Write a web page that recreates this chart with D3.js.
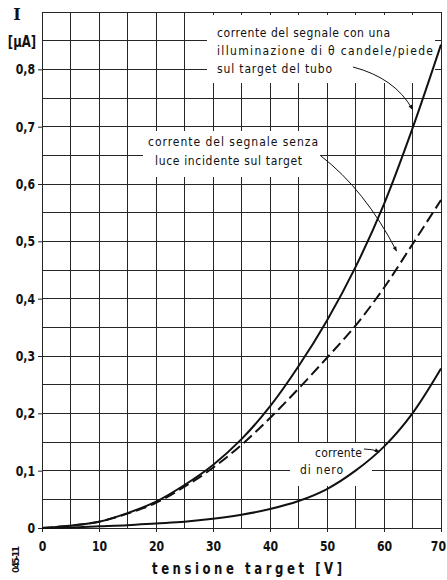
<!DOCTYPE html>
<html>
<head>
<meta charset="utf-8">
<script src="https://cdn.jsdelivr.net/npm/d3@7"></script>
<style>
  html, body { margin: 0; padding: 0; background: #fff; }
  svg { display: block; }
  .tick text { font-family: "DejaVu Sans", sans-serif; font-weight: bold; font-size: 14px; fill: #111; }
  .note { font-family: "DejaVu Sans Condensed", "DejaVu Sans", sans-serif; font-stretch: condensed; font-size: 12px; fill: #111; }
  .title { font-family: "DejaVu Sans", sans-serif; font-weight: bold; fill: #111; }
</style>
</head>
<body>
<svg id="chart" width="447" height="580"></svg>
<script>
// Target voltage (V)
const voltage = [0, 5, 10, 15, 20, 25, 30, 35, 40, 45, 50, 55, 60, 65, 70];
// Signal current with 8 foot-candles on the target (µA)
const currentLit = [0, 0.004, 0.011, 0.026, 0.046, 0.075, 0.11, 0.155, 0.212, 0.282, 0.362, 0.455, 0.565, 0.697, 0.843];
// Signal current with no incident light (µA)
const currentNoLight = [0, 0.004, 0.011, 0.025, 0.044, 0.072, 0.105, 0.145, 0.192, 0.243, 0.297, 0.353, 0.419, 0.495, 0.572];
// Dark current (µA)
const currentDark = [0, 0.001, 0.003, 0.005, 0.008, 0.011, 0.016, 0.023, 0.033, 0.047, 0.068, 0.1, 0.142, 0.2, 0.278];

const xTicks = [0, 10, 20, 30, 40, 50, 60, 70];
const yTicks = [0, 0.1, 0.2, 0.3, 0.4, 0.5, 0.6, 0.7, 0.8];
const xGrid = d3.range(0, 71, 5);
const yGrid = d3.range(0, 0.901, 0.05);
const yTickLabel = v => v === 0 ? "0" : d3.format(".1f")(v).replace(".", ",");

const svg = d3.select("#chart");
const margin = { top: 12, right: 6, bottom: 52, left: 42 };
const W = 447 - margin.left - margin.right;
const H = 580 - margin.top - margin.bottom;
const narrow = 0.78; // horizontal squeeze for the stencil-style lettering

const x = d3.scaleLinear().domain([0, 70]).range([margin.left, margin.left + W]);
const y = d3.scaleLinear().domain([0, 0.9]).range([margin.top + H, margin.top]);

// grid
const grid = svg.append("g").attr("stroke", "#262626").attr("stroke-width", 1).attr("shape-rendering", "crispEdges");
grid.selectAll("line.v").data(xGrid).join("line")
  .attr("x1", d => x(d)).attr("x2", d => x(d))
  .attr("y1", y(0)).attr("y2", y(0.9));
grid.selectAll("line.h").data(yGrid).join("line")
  .attr("x1", x(0)).attr("x2", x(70))
  .attr("y1", d => y(d)).attr("y2", d => y(d));

// axes (short outward ticks + labels)
const xAxis = d3.axisBottom(x).tickValues(xTicks).tickSize(4).tickPadding(9).tickFormat(d3.format("d"));
svg.append("g").attr("transform", `translate(0,${y(0)})`).call(xAxis)
  .call(g => g.select(".domain").remove())
  .call(g => g.selectAll(".tick line").attr("stroke", "#222"))
  .call(g => g.selectAll(".tick text").attr("transform", `scale(${narrow},1)`))
  .call(g => g.selectAll(".tick text").filter(d => d === 70).attr("dx", "-4"));
const yAxis = d3.axisLeft(y).tickValues(yTicks).tickSize(4).tickPadding(4).tickFormat(yTickLabel);
svg.append("g").attr("transform", `translate(${x(0)},0)`).call(yAxis)
  .call(g => g.select(".domain").remove())
  .call(g => g.selectAll(".tick line").attr("stroke", "#222"))
  .call(g => g.selectAll(".tick text").attr("x", -7 / narrow).attr("transform", `scale(${narrow},1)`));

// white panels behind the annotations
const panels = [
  [207, 15, 228, 68],
  [143, 131, 177, 46],
  [290, 443, 82, 43]
];
svg.append("g").selectAll("rect").data(panels).join("rect")
  .attr("x", d => d[0]).attr("y", d => d[1]).attr("width", d => d[2]).attr("height", d => d[3])
  .attr("fill", "#fff");

// curves
const line = d3.line().x((d, i) => x(voltage[i])).y(d => y(d)).curve(d3.curveCatmullRom.alpha(0.5));
svg.append("path").datum(currentDark).attr("d", line)
  .attr("fill", "none").attr("stroke", "#111").attr("stroke-width", 2);
svg.append("path").datum(currentLit).attr("d", line)
  .attr("fill", "none").attr("stroke", "#111").attr("stroke-width", 2);
svg.append("path").datum(currentNoLight).attr("d", line)
  .attr("fill", "none").attr("stroke", "#111").attr("stroke-width", 2)
  .attr("stroke-dasharray", "11,5");

// arrowhead
svg.append("defs").append("marker")
  .attr("id", "arr").attr("viewBox", "0 0 10 10").attr("refX", 9).attr("refY", 5)
  .attr("markerWidth", 7).attr("markerHeight", 5).attr("orient", "auto")
  .attr("markerUnits", "userSpaceOnUse")
  .append("path").attr("d", "M0,1 L10,5 L0,9 Z").attr("fill", "#111");

// annotations
const notes = [
  { t: "corrente del segnale con una", x: 217, y: 37, w: 173 },
  { t: "illuminazione di θ candele/piede", x: 217, y: 55, w: 216 },
  { t: "sul target del tubo", x: 217, y: 73, w: 115 },
  { t: "corrente del segnale senza", x: 148, y: 146, w: 170 },
  { t: "luce incidente sul target", x: 155, y: 165, w: 147 },
  { t: "corrente", x: 315, y: 457, w: 47 },
  { t: "di nero", x: 300, y: 474, w: 43 }
];
svg.append("g").selectAll("text").data(notes).join("text")
  .attr("class", "note")
  .attr("x", d => d.x).attr("y", d => d.y)
  .attr("textLength", d => d.w).attr("lengthAdjust", "spacing")
  .text(d => d.t);

const arrowStyle = p => p.attr("fill", "none").attr("stroke", "#111").attr("stroke-width", 1).attr("marker-end", "url(#arr)");
svg.append("path")
  .attr("d", `M353,67 Q395,78 ${x(65.0)},${y(0.73)}`).call(arrowStyle);
svg.append("path")
  .attr("d", `M321,156 Q365,190 ${x(62.2)},${y(0.483)}`).call(arrowStyle);
svg.append("path")
  .attr("d", `M364,449 Q372,449 ${x(59.2)},${y(0.133)}`).call(arrowStyle);

// axis titles
svg.append("text").attr("x", 17).attr("y", 20).attr("text-anchor", "middle")
  .attr("font-family", "DejaVu Serif, serif").attr("font-weight", "bold").attr("font-size", 16).attr("fill", "#111")
  .text("I");
svg.append("text").attr("class", "title").attr("transform", `scale(${narrow},1)`)
  .attr("x", 22 / narrow).attr("y", 47).attr("text-anchor", "middle")
  .attr("font-size", 15)
  .text("[µA]");
svg.append("text").attr("class", "title").attr("transform", `scale(${narrow},1)`)
  .attr("x", 152 / narrow).attr("y", 574)
  .attr("font-size", 15)
  .attr("textLength", 190 / narrow).attr("lengthAdjust", "spacing")
  .text("tensione  target  [V]");
svg.append("text").attr("class", "title").attr("transform", "translate(19,573) rotate(-90)")
  .attr("font-size", 9)
  .attr("textLength", 27).attr("lengthAdjust", "spacing")
  .text("045-11");
</script>
</body>
</html>
